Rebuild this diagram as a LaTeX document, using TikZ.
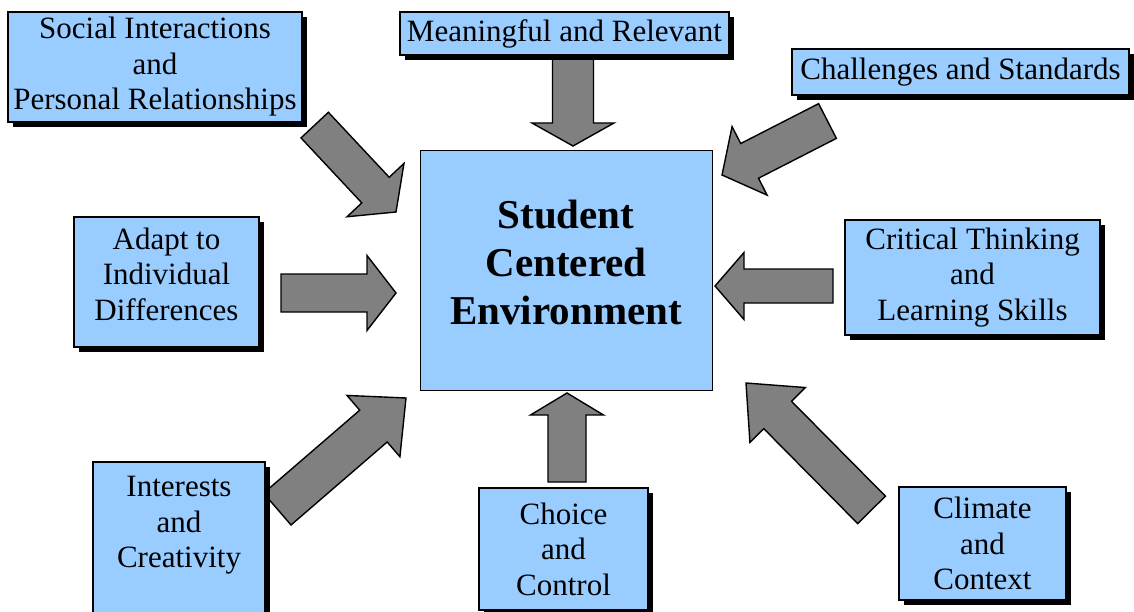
\documentclass[tikz,border=0pt]{standalone}
\usepackage{fontspec}
\setmainfont{Liberation Serif}
\usetikzlibrary{shadows}
\definecolor{boxblue}{HTML}{99CCFF}
\definecolor{arrowgrey}{HTML}{808080}
\def\blockarrow(#1)(#2:#3:#4:#5:#6){\draw[bigarrow,shift={(#1)},rotate=#2] (0,0) -- (-#6,#5/2) -- (-#6,#4/2) -- (-#3,#4/2) -- (-#3,-#4/2) -- (-#6,-#4/2) -- (-#6,-#5/2) -- cycle;}
\tikzset{
	bigarrow/.style={fill=arrowgrey,draw=black,line width=1.4pt},
	boxsize/.style 2 args={minimum width=#1pt,minimum height=#2pt},
	topic/.style={draw=black,fill=boxblue,line width=1.5pt,inner sep=0pt,align=center,font=\fontsize{31}{35.5}\selectfont,drop shadow={shadow xshift=5pt,shadow yshift=-5pt,fill=black,opacity=1}},
	hub/.style={draw=black,fill=boxblue,line width=0.8pt,inner sep=0pt,align=center,font=\bfseries\fontsize{41}{48}\selectfont}
}

\begin{document}
\begin{tikzpicture}[x=1pt,y=-1pt]
			%%%%% START %%%%%
			\useasboundingbox (0,0) rectangle (1134,612);
			
			\blockarrow(396,212)(-46.9:119:37.5:78:30)
			\blockarrow(573,146)(-90:91:41:82:23)
			\blockarrow(722,175)(207.1:118.5:39:77:31)
			\blockarrow(396,293)(0:115:38:75:29)
			\blockarrow(715,286)(180:118:34:67:29)
			\blockarrow(406,398)(40.8:170:42:81:43)
			\blockarrow(746,383)(134.7:178.5:39:78:45)
			\blockarrow(567,393)(90:89:38:73:22)
			
			\node[hub,boxsize={292}{240}] (sce) at (566,270) {Student\\Centered\\Environment\\[-32pt]};
			
			\node[topic,boxsize={294}{110}] (social) at (155,67) {Social Interactions\\and\\Personal Relationships};
			\node[topic,boxsize={329}{43}] (meaningful) at (564.5,33.5) {Meaningful and Relevant};
			\node[topic,boxsize={337}{46}] (challenges) at (960.5,72) {Challenges and Standards};
			\node[topic,boxsize={185}{130}] (adapt) at (166.5,282) {Adapt to\\Individual\\Differences\\[-19.5pt]};
			\node[topic,boxsize={255}{115}] (critical) at (972.5,277.5) {Critical Thinking\\and\\Learning Skills};
			\node[topic,boxsize={172}{158}] (interests) at (179,541) {Interests\\and\\Creativity\\[2pt]};
			\node[topic,boxsize={169}{122}] (choice) at (563.5,549) {Choice\\and\\Control};
			\node[topic,boxsize={167}{113}] (climate) at (982.5,543.5) {Climate\\and\\Context};
			
			%%%%% END %%%%%
\end{tikzpicture}
\end{document}
